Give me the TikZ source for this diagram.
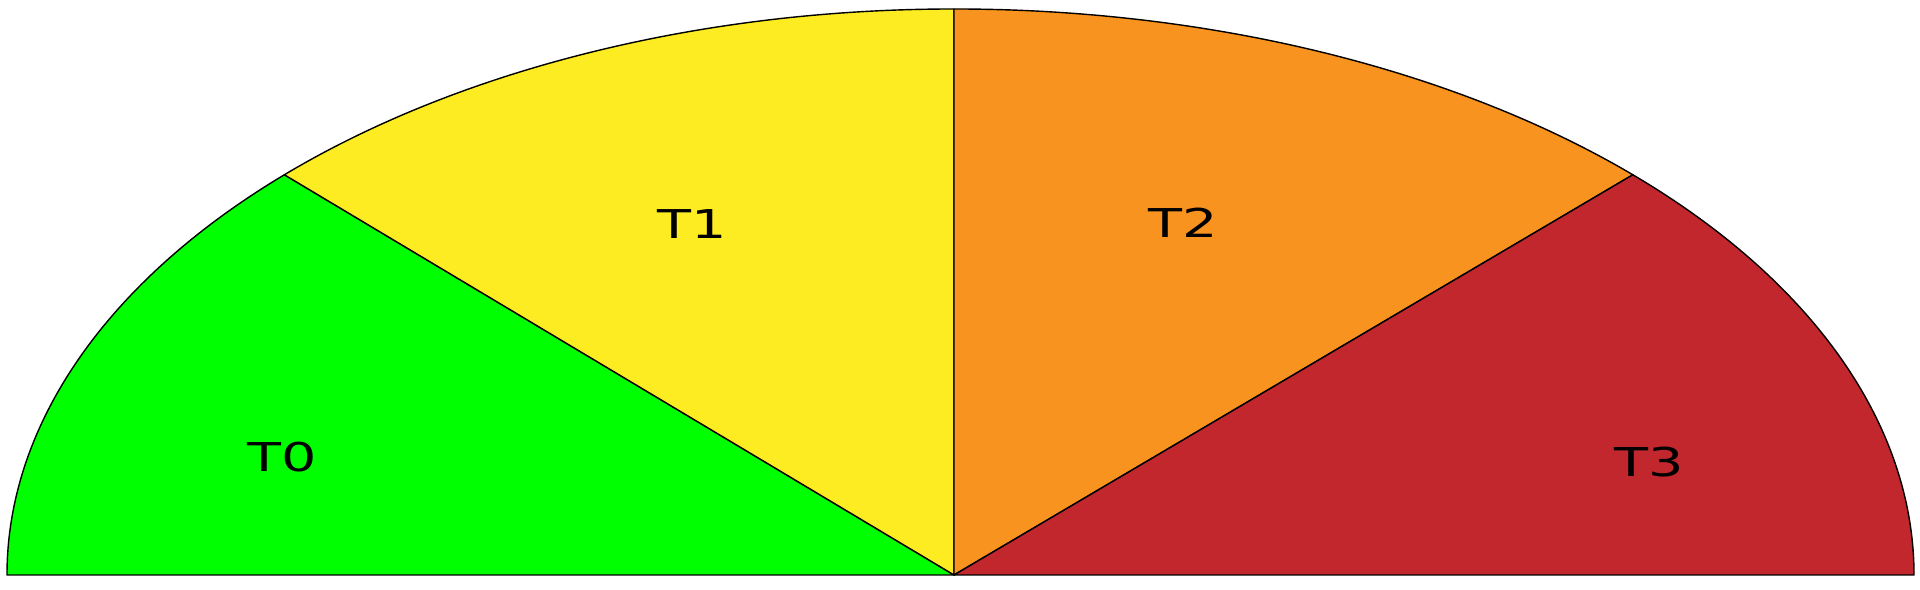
\documentclass[tikz,border=0pt]{standalone}
\usepackage{fontspec}
\setsansfont{DejaVu Sans}
\usetikzlibrary{calc}
\definecolor{zoneA}{RGB}{0,255,0}
\definecolor{zoneB}{RGB}{252,236,33}
\definecolor{zoneC}{RGB}{247,147,30}
\definecolor{zoneD}{RGB}{193,39,45}
\begin{document}
\begin{tikzpicture}[
    sector/.style={draw=black,line width=0.4pt,line join=round},
    tlabel/.style={font=\sffamily\fontsize{11.3}{12}\selectfont,xscale=1.4,inner sep=0pt}]
            \useasboundingbox (0,0) rectangle (19.2,5.9);
            % centre and radii of the half ellipse
            \coordinate (o) at (9.54,0.15);
            \def\ry{5.66}
            % sectors
            \filldraw[sector,fill=zoneA] (o) -- ($(o)+(-9.47,0)$) arc[start angle=180,end angle=135,x radius=9.47,y radius=\ry] -- cycle;
            \filldraw[sector,fill=zoneB] (o) -- ($(o)+(135:9.47 and \ry)$) arc[start angle=135,end angle=90,x radius=9.47,y radius=\ry] -- cycle;
            \filldraw[sector,fill=zoneC] (o) -- ($(o)+(0,\ry)$) arc[start angle=90,end angle=45,x radius=9.60,y radius=\ry] -- cycle;
            \filldraw[sector,fill=zoneD] (o) -- ($(o)+(45:9.60 and \ry)$) arc[start angle=45,end angle=0,x radius=9.60,y radius=\ry] -- cycle;
            %labels
            \node[tlabel] (t0) at (2.82,1.33) {T0};
            \node[tlabel] (t1) at (6.92,3.66) {T1};
            \node[tlabel] (t2) at (11.83,3.67) {T2};
            \node[tlabel] (t3) at (16.49,1.28) {T3};
        \end{tikzpicture}
\end{document}
